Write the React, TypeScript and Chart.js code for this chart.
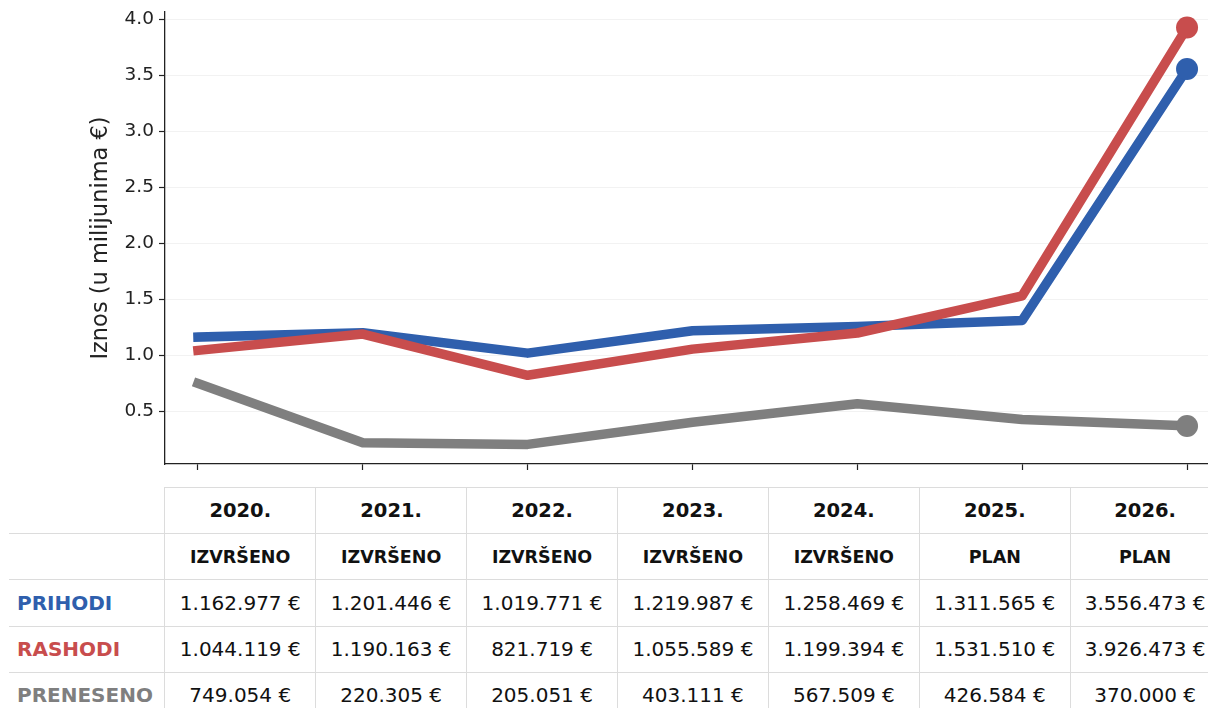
import React, { useEffect, useRef } from "react";
import { Chart, registerables } from "chart.js";

Chart.register(...registerables);

const years = ["2020.", "2021.", "2022.", "2023.", "2024.", "2025.", "2026."];
const statuses = ["IZVRŠENO", "IZVRŠENO", "IZVRŠENO", "IZVRŠENO", "IZVRŠENO", "PLAN", "PLAN"];
const prihodi = [1162977, 1201446, 1019771, 1219987, 1258469, 1311565, 3556473];
const rashodi = [1044119, 1190163, 821719, 1055589, 1199394, 1531510, 3926473];
const preneseno = [749054, 220305, 205051, 403111, 567509, 426584, 370000];
const yTicks = [0.5, 1.0, 1.5, 2.0, 2.5, 3.0, 3.5, 4.0];
const seriesNames = ["PRIHODI", "RASHODI", "PRENESENO"];
const seriesColors = ["#2f5fad", "#c84d4d", "#7f7f7f"];
const seriesData = [prihodi, rashodi, preneseno];
const seriesOrder = [1, 0, 2];

const FONT = "'DejaVu Sans', sans-serif";

const fmt = (v: number) =>
  v.toString().replace(/\B(?=(\d{3})+(?!\d))/g, ".") + " €";

const AREA_TOP = 12;
const AREA_BOTTOM = 464;

export default function App() {
  const ref = useRef<HTMLCanvasElement | null>(null);

  useEffect(() => {
    const prevMargin = document.body.style.margin;
    document.body.style.margin = "0";
    if (!ref.current) return;
    const last = years.length - 1;
    let xHeight = 16;
    const zeroPad = (s: any) => {
      s.paddingTop = 0;
      s.paddingBottom = 0;
      s.paddingLeft = 0;
      s.paddingRight = 0;
    };
    const chart = new Chart(ref.current, {
      type: "line",
      data: {
        datasets: seriesData.map((arr, si) => ({
          label: seriesNames[si],
          data: arr.map((v, i) => ({ x: i, y: v / 1e6 })),
          borderColor: seriesColors[si],
          backgroundColor: seriesColors[si],
          borderWidth: 9.5,
          borderCapStyle: "square" as const,
          borderJoinStyle: "round" as const,
          tension: 0,
          pointRadius: arr.map((_, i) => (i === last ? 11 : 0)),
          pointHoverRadius: 0,
          pointBorderWidth: 0,
          order: seriesOrder[si],
        })),
      },
      options: {
        responsive: false,
        animation: false,
        events: [],
        layout: { autoPadding: false, padding: { top: AREA_TOP, left: 0, right: 0, bottom: 0 } },
        plugins: {
          legend: { display: false },
          tooltip: { enabled: false },
        },
        scales: {
          x: {
            type: "linear",
            min: -0.2,
            max: 6.2,
            afterBuildTicks: (s: any) => {
              s.ticks = years.map((_, i) => ({ value: i }));
            },
            afterFit: (s: any) => {
              s.height = xHeight;
              zeroPad(s);
            },
            ticks: { callback: () => "", padding: 0 },
            grid: {
              drawOnChartArea: false,
              drawTicks: true,
              tickLength: 6,
              tickColor: "#222",
              tickWidth: 1.2,
            },
            border: { color: "#222", width: 1.3 },
          },
          y: {
            type: "linear",
            min: 0.03,
            max: 4.065,
            afterBuildTicks: (s: any) => {
              s.ticks = yTicks.map((v) => ({ value: v }));
            },
            afterFit: (s: any) => {
              s.width = 165;
              zeroPad(s);
            },
            ticks: {
              callback: (v: any) => Number(v).toFixed(1),
              color: "#222",
              font: { family: FONT, size: 18.5 },
              padding: 5,
            },
            grid: {
              color: "rgba(0,0,0,0.05)",
              drawTicks: true,
              tickLength: 6,
              tickColor: "#222",
              tickWidth: 1.2,
            },
            border: { color: "#222", width: 1.3 },
            title: {
              display: true,
              text: "Iznos (u milijunima €)",
              color: "#222",
              font: { family: FONT, size: 22.5 },
              padding: { top: 88, bottom: 0 },
            },
          },
        },
      },
    });
    // one correction pass so the plot area lands exactly where intended
    const ca = chart.chartArea;
    const dTop = AREA_TOP - ca.top;
    const dBottom = ca.bottom - AREA_BOTTOM;
    if (Math.abs(dTop) > 0.5 || Math.abs(dBottom) > 0.5) {
      const pad: any = chart.options.layout!.padding;
      pad.top = Math.max(0, AREA_TOP + dTop);
      xHeight = Math.max(0, xHeight + dBottom);
      chart.update();
    }
    return () => {
      chart.destroy();
      document.body.style.margin = prevMargin;
    };
  }, []);

  const colLeft0 = 9;
  const colW0 = 155.3;
  const colW = 150.9;
  const tableTop = 487;
  const rowH = 46.2;
  const border = "1px solid #dcdcdc";

  const rows: { label: string; color: string; cells: string[]; bold: boolean; size: number }[] = [
    { label: "", color: "#111", cells: years, bold: true, size: 19.5 },
    { label: "", color: "#111", cells: statuses, bold: true, size: 17.5 },
    ...seriesData.map((arr, si) => ({
      label: seriesNames[si],
      color: seriesColors[si],
      cells: arr.map(fmt),
      bold: false,
      size: 20,
    })),
  ];

  return (
    <div
      style={{
        position: "fixed",
        left: 0,
        top: 0,
        width: 1208,
        height: 708,
        overflow: "hidden",
        background: "#fff",
      }}
    >
      <canvas
        ref={ref}
        width={1220}
        height={480}
        style={{ position: "absolute", left: 0, top: 0, width: 1220, height: 480 }}
      />
      {rows.map((r, ri) => (
        <React.Fragment key={ri}>
          <div
            style={{
              position: "absolute",
              left: colLeft0,
              top: tableTop + ri * rowH,
              width: colW0,
              height: rowH,
              borderTop: ri === 0 ? "none" : border,
              boxSizing: "border-box",
              display: "flex",
              alignItems: "center",
              paddingLeft: 8,
              fontFamily: FONT,
              fontWeight: "bold",
              fontSize: 20,
              color: r.color,
              whiteSpace: "nowrap",
            }}
          >
            {r.label}
          </div>
          {r.cells.map((c, ci) => (
            <div
              key={ci}
              style={{
                position: "absolute",
                left: colLeft0 + colW0 + ci * colW,
                top: tableTop + ri * rowH,
                width: colW,
                height: rowH,
                borderTop: border,
                borderLeft: border,
                borderRight: ci === r.cells.length - 1 ? border : "none",
                boxSizing: "border-box",
                display: "flex",
                alignItems: "center",
                justifyContent: "center",
                fontFamily: FONT,
                fontWeight: r.bold ? "bold" : "normal",
                fontSize: r.size,
                color: "#111",
                whiteSpace: "nowrap",
              }}
            >
              {c}
            </div>
          ))}
        </React.Fragment>
      ))}
    </div>
  );
}
